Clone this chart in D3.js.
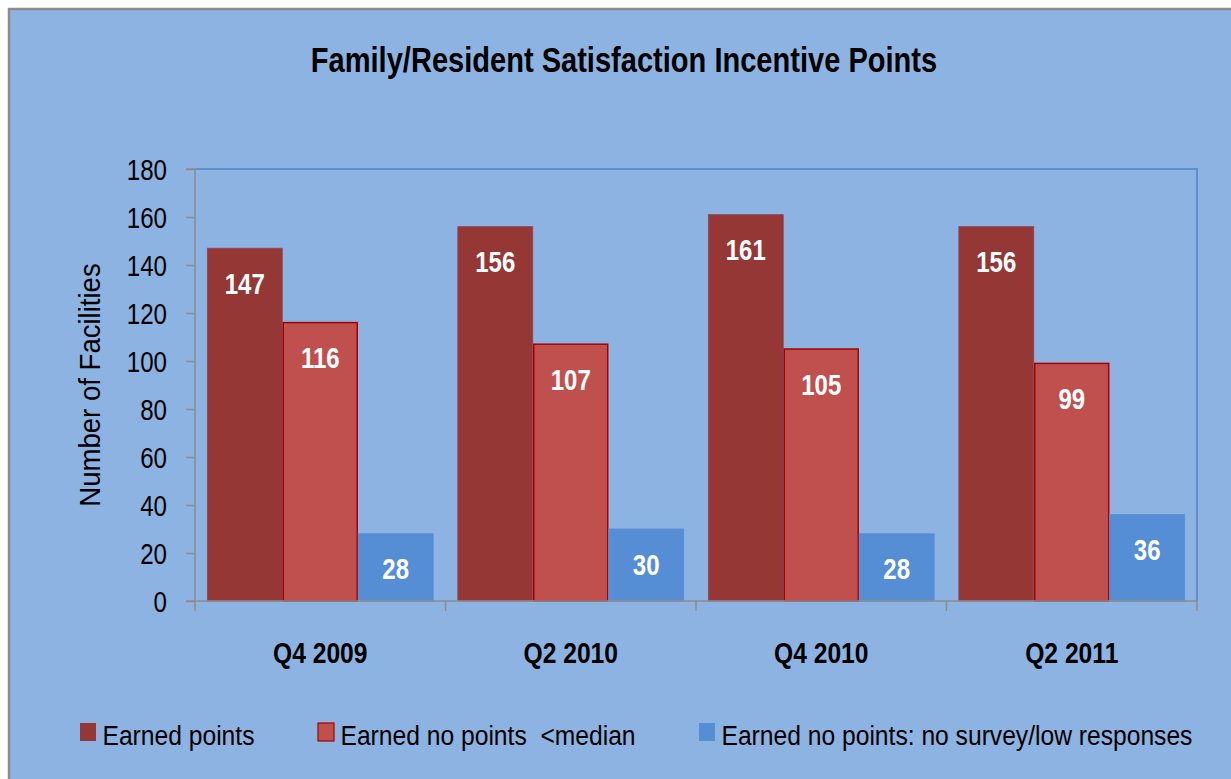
<!DOCTYPE html>
<html>
<head>
<meta charset="utf-8">
<script src="https://cdn.jsdelivr.net/npm/d3@7"></script>
<style>
  html, body { margin: 0; padding: 0; background: #ffffff; }
  svg { display: block; }
  text { font-family: "Liberation Sans Narrow", "Arial Narrow", "Liberation Sans", Arial, sans-serif; }
</style>
</head>
<body>
<svg id="chart" width="1231" height="779"></svg>
<script>
const categories = ["Q4 2009", "Q2 2010", "Q4 2010", "Q2 2011"];
const seriesNames = ["Earned points", "Earned no points  <median", "Earned no points: no survey/low responses"];
const earnedPoints = [147, 156, 161, 156];
const noPointsBelowMedian = [116, 107, 105, 99];
const noPointsNoSurvey = [28, 30, 28, 36];
const yTicks = [0, 20, 40, 60, 80, 100, 120, 140, 160, 180];
const titleText = "Family/Resident Satisfaction Incentive Points";
const yAxisLabel = "Number of Facilities";

const seriesValues = [earnedPoints, noPointsBelowMedian, noPointsNoSurvey];
const fills = ["#953735", "#C0504D", "#558ED5"];
const strokes = ["#8a4a5c", "#A80000", "#558ED5"];

// condense text horizontally (narrow font substitute)
function condense(sel, factor) {
  sel.each(function() {
    const n = this.getComputedTextLength();
    d3.select(this).attr("textLength", n * factor).attr("lengthAdjust", "spacingAndGlyphs");
  });
}

const svg = d3.select("#chart");
const W = 1231, H = 779;

svg.append("rect").attr("x", 0).attr("y", 0).attr("width", W).attr("height", H).attr("fill", "#ffffff");
svg.append("rect").attr("x", 9).attr("y", 9).attr("width", W + 20).attr("height", H + 20)
  .attr("fill", "#8DB3E2").attr("stroke", "#8c8c8c").attr("stroke-width", 2.5);

const plot = { left: 195, right: 1197, top: 169, bottom: 601 };

const x0 = d3.scaleBand().domain(categories).range([plot.left, plot.right]).paddingInner(0).paddingOuter(0);
const x1 = d3.scaleBand().domain(d3.range(seriesNames.length)).range([0, x0.bandwidth()]).paddingInner(0).paddingOuter(0.16);
const y = d3.scaleLinear().domain([0, 180]).range([plot.bottom, plot.top]);

// plot area border (top & right)
svg.append("path")
  .attr("d", `M${plot.left},${plot.top}H${plot.right}V${plot.bottom}`)
  .attr("fill", "none").attr("stroke", "#5f8fca").attr("stroke-width", 2);

// bars
const groups = svg.append("g").selectAll("g").data(categories).join("g")
  .attr("transform", d => `translate(${x0(d)},0)`);

groups.each(function(cat, ci) {
  const g = d3.select(this);
  seriesValues.forEach((vals, si) => {
    const v = vals[ci];
    g.append("rect")
      .attr("x", x1(si) + (si === 1 ? 0.75 : 0.25))
      .attr("y", y(v))
      .attr("width", x1.bandwidth() - (si === 1 ? 1.5 : 0.5))
      .attr("height", y(0) - y(v))
      .attr("fill", fills[si])
      .attr("stroke", strokes[si])
      .attr("stroke-width", si === 1 ? 1.5 : 0.8);
    const t = g.append("text")
      .attr("x", x1(si) + x1.bandwidth() / 2)
      .attr("y", y(v) + 45.5)
      .attr("text-anchor", "middle")
      .attr("font-size", 30)
      .attr("font-weight", "bold")
      .attr("fill", "#ffffff")
      .text(v);
    condense(t, 0.8);
  });
});

// y axis
const yAxis = d3.axisLeft(y).tickValues(yTicks).tickSize(9).tickPadding(19);
const yg = svg.append("g").attr("transform", `translate(${plot.left},0)`).call(yAxis);
yg.select(".domain").attr("stroke", "#8c8c8c").attr("stroke-width", 1.5).attr("d", `M-9,${plot.top}H0V${plot.bottom}`);
yg.selectAll(".tick line").attr("stroke", "#8c8c8c").attr("stroke-width", 1.5);
yg.selectAll(".tick text").attr("font-size", 29).attr("fill", "#000").attr("dy", "0.36em")
  .attr("font-family", null);
condense(yg.selectAll(".tick text"), 0.83);

// x axis
const xAxis = d3.axisBottom(x0).tickSize(0).tickPadding(0).tickFormat(d => d);
const xg = svg.append("g").attr("transform", `translate(0,${plot.bottom})`).call(xAxis);
xg.select(".domain").attr("stroke", "#8c8c8c").attr("stroke-width", 1.5).attr("d", `M${plot.left - 9},0H${plot.right}`);
xg.selectAll(".tick text").attr("font-size", 29).attr("font-weight", "bold").attr("fill", "#000")
  .attr("y", 62).attr("dy", 0).attr("font-family", null);
condense(xg.selectAll(".tick text"), 0.85);
const sepPos = categories.map(c => x0(c)).concat([plot.right]);
xg.selectAll("line.sep").data(sepPos).join("line").attr("class", "sep")
  .attr("x1", d => d).attr("x2", d => d).attr("y1", 0).attr("y2", 10)
  .attr("stroke", "#8c8c8c").attr("stroke-width", 1.5);

// title
const title = svg.append("text").attr("x", 624).attr("y", 72).attr("text-anchor", "middle")
  .attr("font-size", 35).attr("font-weight", "bold").attr("fill", "#000").text(titleText);
condense(title, 0.83);

// y label
const yl = svg.append("text").attr("transform", `translate(100,385) rotate(-90)`).attr("text-anchor", "middle")
  .attr("font-size", 29).attr("fill", "#000").text(yAxisLabel);
condense(yl, 0.95);

// legend
const legendX = [80, 318, 699];
const lg = svg.append("g").selectAll("g").data(seriesNames).join("g")
  .attr("transform", (d, i) => `translate(${legendX[i]},723)`);
lg.append("rect").attr("x", 0).attr("y", 0).attr("width", 16).attr("height", 18)
  .attr("fill", (d, i) => fills[i]).attr("stroke", (d, i) => i === 1 ? "#A80000" : "none").attr("stroke-width", 1.2);
lg.append("g").attr("transform", "translate(22.5,22) scale(0.88,1)")
  .append("text").attr("x", 0).attr("y", 0).attr("font-size", 28).attr("fill", "#000")
  .attr("xml:space", "preserve").style("white-space", "pre").text(d => d);
</script>
</body>
</html>
